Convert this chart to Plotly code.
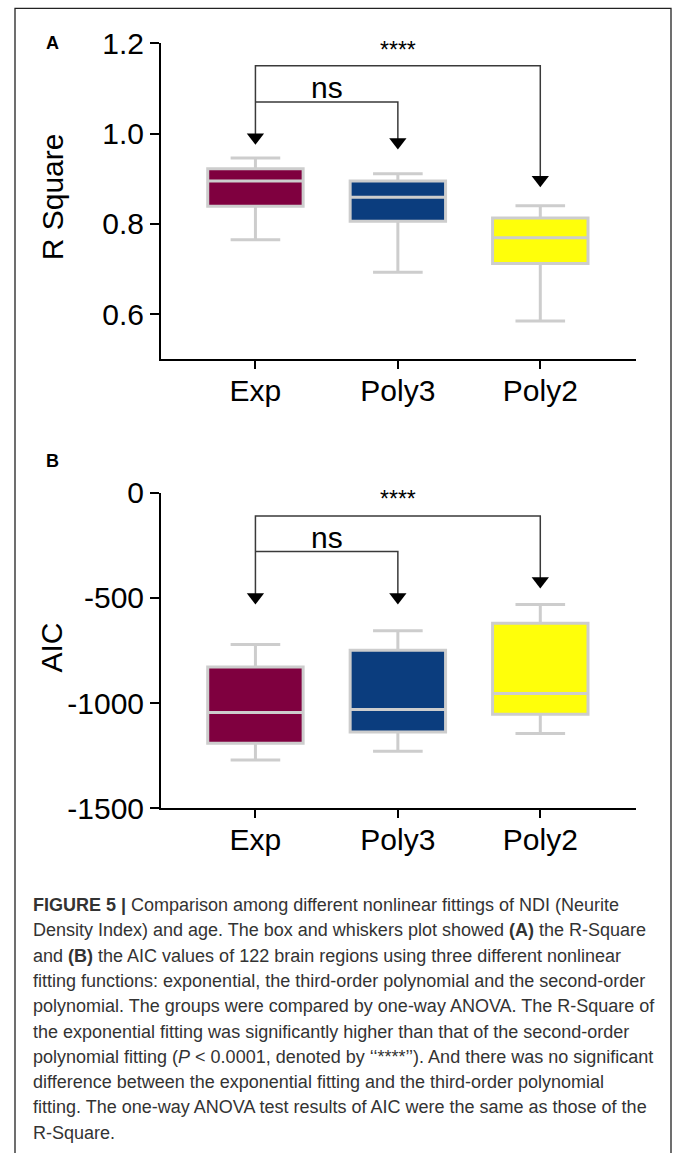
import plotly.graph_objects as go

W, H = 673, 1153

categories = ["Exp", "Poly3", "Poly2"]
colors = ["#7f003f", "#0b3d7e", "#ffff0a"]

# Panel A: R Square (lower whisker, q1, median, q3, upper whisker)
rsq_low = [0.765, 0.693, 0.585]
rsq_q1 = [0.839, 0.806, 0.712]
rsq_med = [0.895, 0.859, 0.769]
rsq_q3 = [0.922, 0.895, 0.813]
rsq_high = [0.946, 0.911, 0.840]

# Panel B: AIC
aic_low = [-1270, -1229, -1144]
aic_q1 = [-1191, -1137, -1053]
aic_med = [-1045, -1030, -954]
aic_q3 = [-828, -749, -621]
aic_high = [-721, -656, -531]

# significance brackets: [top bracket, inner bracket], arrow tips, label heights
rsq_brackets = [1.150, 1.070]
rsq_tips = [0.975, 0.965, 0.881]
rsq_label_y = [1.102, 1.186]
aic_brackets = [-111, -280]
aic_tips = [-531, -531, -455]
aic_label_y = [-212, -30]
sig_labels = ["ns", "****"]

rsq_ticks = [0.6, 0.8, 1.0, 1.2]
aic_ticks = [-1500, -1000, -500, 0]

rsq_range = [0.5, 1.2]
aic_range = [-1500, 0]
x_range = [-0.663, 2.672]

# layout in px
x0_px, x1_px = 161, 636
A_top, A_bot = 43.3, 359.3
B_top, B_bot = 492.7, 808.3

def py(v):
    return 1 - v / H

fig = go.Figure()
font_main = "Liberation Sans, Arial, sans-serif"

def add_panel(xa, ya, low, q1, med, q3, high, brackets, tips, label_y, yr, top_px, bot_px):
    for i, c in enumerate(categories):
        fig.add_trace(go.Box(
            x=[c], q1=[q1[i]], median=[med[i]], q3=[q3[i]],
            lowerfence=[low[i]], upperfence=[high[i]],
            fillcolor=colors[i], line=dict(color="#cdcdcd", width=3),
            width=0.67, whiskerwidth=0.52, boxpoints=False,
            xaxis=xa, yaxis=ya, showlegend=False, hoverinfo="skip"))
    upp = (yr[1] - yr[0]) / (bot_px - top_px)
    r = 7.5
    tc = [t + r * upp for t in tips]
    top, inner = brackets
    fig.add_trace(go.Scatter(
        x=[categories[0], categories[0], categories[2], categories[2], None,
           categories[0], categories[1], categories[1]],
        y=[tc[0], top, top, tc[2], None, inner, inner, tc[1]],
        mode="lines", line=dict(color="#3a3a3a", width=1.5),
        xaxis=xa, yaxis=ya, showlegend=False, hoverinfo="skip"))
    fig.add_trace(go.Scatter(
        x=categories, y=tc, mode="markers",
        marker=dict(symbol="triangle-down", size=15, color="black"),
        xaxis=xa, yaxis=ya, showlegend=False, hoverinfo="skip"))
    fig.add_annotation(x=0.5, y=label_y[0], xref=xa, yref=ya, text=sig_labels[0],
                       showarrow=False, font=dict(size=30, color="black", family=font_main))
    fig.add_annotation(x=1.0, y=label_y[1], xref=xa, yref=ya, text=sig_labels[1],
                       showarrow=False, font=dict(size=23, color="black", family=font_main))

add_panel("x", "y", rsq_low, rsq_q1, rsq_med, rsq_q3, rsq_high,
          rsq_brackets, rsq_tips, rsq_label_y, rsq_range, A_top, A_bot)
add_panel("x2", "y2", aic_low, aic_q1, aic_med, aic_q3, aic_high,
          aic_brackets, aic_tips, aic_label_y, aic_range, B_top, B_bot)

xdom = [x0_px / W, x1_px / W]

common_x = dict(range=x_range, showline=True, linecolor="black", linewidth=2,
                ticks="outside", ticklen=8, tickwidth=2, tickcolor="black",
                showgrid=False, zeroline=False, automargin=False,
                ticklabelstandoff=-4,
                tickfont=dict(size=30, color="black", family=font_main),
                categoryorder="array", categoryarray=categories)
common_y = dict(showline=True, linecolor="black", linewidth=2,
                ticks="outside", ticklen=9, tickwidth=2, tickcolor="black",
                showgrid=False, zeroline=False, automargin=False,
                tickfont=dict(size=30, color="black", family=font_main))

fig.update_layout(
    width=W, height=H, margin=dict(l=0, r=0, t=0, b=0),
    paper_bgcolor="white", plot_bgcolor="white",
    xaxis=dict(domain=xdom, anchor="y", **common_x),
    yaxis=dict(domain=[py(A_bot), py(A_top)], anchor="x", range=rsq_range,
               tickvals=rsq_ticks, ticktext=[f"{v:.1f}" for v in rsq_ticks], **common_y),
    xaxis2=dict(domain=xdom, anchor="y2", **common_x),
    yaxis2=dict(domain=[py(B_bot), py(B_top)], anchor="x2", range=aic_range,
                tickvals=aic_ticks, ticktext=[str(v) for v in aic_ticks], **common_y),
    font=dict(family=font_main),
)

# axis titles and panel letters
fig.add_annotation(x=52 / W, y=py((A_top + A_bot) / 2 - 4), xref="paper", yref="paper",
                   xanchor="center", yanchor="middle",
                   text="R Square", textangle=-90, showarrow=False,
                   font=dict(size=30, color="black", family=font_main))
fig.add_annotation(x=51 / W, y=py((B_top + B_bot) / 2 - 3), xref="paper", yref="paper",
                   xanchor="center", yanchor="middle",
                   text="AIC", textangle=-90, showarrow=False,
                   font=dict(size=30, color="black", family=font_main))
fig.add_annotation(x=52 / W, y=py(43), xref="paper", yref="paper", text="<b>A</b>",
                   xanchor="center", yanchor="middle",
                   showarrow=False, font=dict(size=18, color="black", family=font_main))
fig.add_annotation(x=52 / W, y=py(461), xref="paper", yref="paper", text="<b>B</b>",
                   xanchor="center", yanchor="middle",
                   showarrow=False, font=dict(size=18, color="black", family=font_main))

caption = [
    "<b>FIGURE 5 |</b> Comparison among different nonlinear fittings of NDI (Neurite",
    "Density Index) and age. The box and whiskers plot showed <b>(A)</b> the R-Square",
    "and <b>(B)</b> the AIC values of 122 brain regions using three different nonlinear",
    "fitting functions: exponential, the third-order polynomial and the second-order",
    "polynomial. The groups were compared by one-way ANOVA. The R-Square of",
    "the exponential fitting was significantly higher than that of the second-order",
    "polynomial fitting (<i>P</i> &lt; 0.0001, denoted by \u2018\u2018****\u2019\u2019). And there was no significant",
    "difference between the exponential fitting and the third-order polynomial",
    "fitting. The one-way ANOVA test results of AIC were the same as those of the",
    "R-Square.",
]
cap_y0, cap_dy = 905, 25.3
for i, line in enumerate(caption):
    fig.add_annotation(x=31 / W, y=py(cap_y0 + i * cap_dy), xref="paper", yref="paper",
                       xanchor="left", yanchor="middle", text=line, showarrow=False,
                       font=dict(size=18, color="#333333",
                                 family="Liberation Sans Narrow, Liberation Sans, Arial"))

# outer frame
fig.add_shape(type="rect", xref="paper", yref="paper", x0=15 / W, x1=671 / W,
              y0=-0.05, y1=py(8.3), line=dict(color="#222222", width=1.3),
              fillcolor="rgba(0,0,0,0)")

fig.write_html("out.html")
